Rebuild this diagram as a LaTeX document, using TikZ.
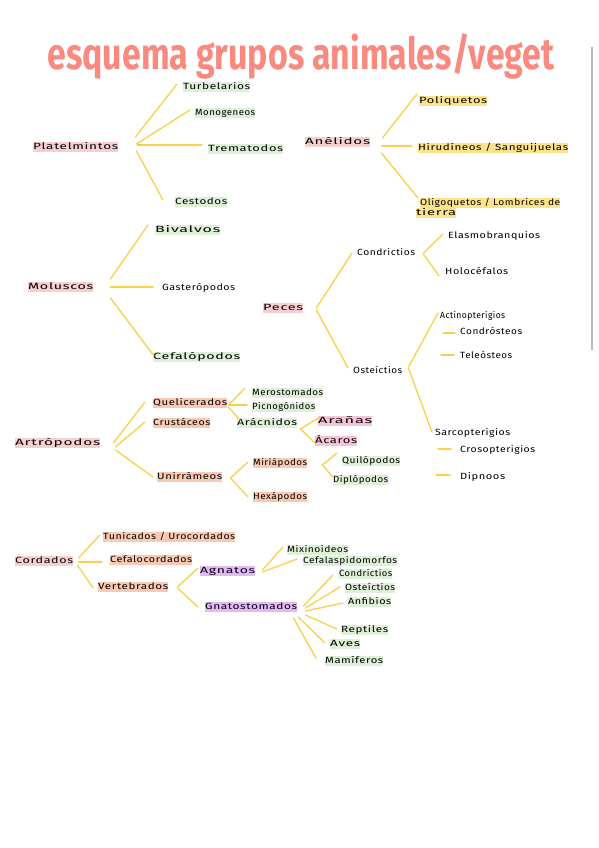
\documentclass[tikz,border=0pt]{standalone}
\usepackage{fontspec}
\usepackage{graphicx}
\newfontfamily\hand[LetterSpace=5]{Fira Sans}
\newfontfamily\titlefont{Fira Sans}
\definecolor{hpink}{HTML}{F8CFCF}
\definecolor{hgreen}{HTML}{DFF0D8}
\definecolor{hyellow}{HTML}{FCE38A}
\definecolor{horange}{HTML}{F9C9B3}
\definecolor{hpurple}{HTML}{E2B8F7}
\definecolor{hpinkb}{HTML}{F5C4D8}
\definecolor{lnyel}{HTML}{F8D04A}
\definecolor{ttlcol}{HTML}{FA8A80}
\newcommand\fw[2]{\resizebox{#1pt}{\height}{#2}}
\newcommand\cn[4]{\draw[conn] ([shift={(#2)}]#1.east) -- ([shift={(#4)}]#3.west);}
\begin{document}
\begin{tikzpicture}[x=1pt,y=-1pt,
  lb/.style={anchor=west,inner xsep=0pt,inner ysep=1pt,text height=6.3pt,text depth=1.8pt,font=\hand\fontsize{9}{10}\selectfont},
  conn/.style={draw=lnyel,line width=1.3pt,line cap=round}]
\useasboundingbox (0,0) rectangle (599,848);
\fill[white] (0,0) rectangle (599,848);
\draw[gray!55,line width=1.2pt] (592,47) -- (592,350);
\node[anchor=base,inner sep=0pt,text=ttlcol,font=\titlefont\bfseries\fontsize{44}{44}\selectfont] (ttl) at (301,70) {\fw{507}{esquema grupos animales/veget}};
% Platelmintos
\node[lb,fill=hpink] (plat) at (33,147) {\fw{85}{Platelmintos}};
\node[lb,fill=hgreen] (turb) at (183,87) {\fw{67}{Turbelarios}};
\node[lb,fill=hgreen] (mono) at (195,113) {\fw{60}{Monogeneos}};
\node[lb,fill=hgreen] (trem) at (208,149) {\fw{75}{Trematodos}};
\node[lb,fill=hgreen] (cest) at (175,202) {\fw{52}{Cestodos}};
\cn{plat}{17,-10}{turb}{-6,-3}
\cn{plat}{18,-3}{mono}{-5,-3}
\cn{plat}{19,-2}{trem}{-6,-4}
\cn{plat}{18,4}{cest}{-12,-2}
% Anelidos
\node[lb,fill=hpink] (anel) at (305,142) {\fw{65}{Anélidos}};
\node[lb,fill=hyellow] (poli) at (419,101) {\fw{68}{Poliquetos}};
\node[lb,fill=hyellow] (hiru) at (418,148) {\fw{150}{Hirudíneos / Sanguijuelas}};
\node[lb,fill=hyellow] (olig) at (420,203) {\fw{140}{Oligoquetos / Lombrices de}};
\node[lb,fill=hyellow] (oligb) at (416,213) {\fw{40}{tierra}};
\cn{anel}{12,-4}{poli}{-2,-7}
\cn{anel}{11,4}{hiru}{-6,-2}
\cn{anel}{11,11}{olig}{-2,-5}
% Moluscos
\node[lb,fill=hpink] (molu) at (28,287) {\fw{65}{Moluscos}};
\node[lb,fill=hgreen] (biva) at (155,230) {\fw{65}{Bivalvos}};
\node[lb] (gast) at (162,288) {\fw{73}{Gasterópodos}};
\node[lb,fill=hgreen] (cefa) at (153,357) {\fw{87}{Cefalópodos}};
\cn{molu}{17,-8}{biva}{-7,-5}
\cn{molu}{17,0}{gast}{-9,-1}
\cn{molu}{17,11}{cefa}{1,-1}
% Peces
\node[lb,fill=hpink] (pece) at (263,308) {\fw{40}{Peces}};
\node[lb] (cond) at (357,253) {\fw{58}{Condrictios}};
\node[lb] (oste) at (353,371) {\fw{49}{Osteíctios}};
\node[lb] (elas) at (448,236) {\fw{92}{Elasmobranquios}};
\node[lb] (holo) at (445,272) {\fw{63}{Holocéfalos}};
\node[lb] (acti) at (440,316) {\fw{65}{Actinopterigios}};
\node[lb] (cdro) at (460,332) {\fw{62}{Condrósteos}};
\node[lb] (tele) at (460,356) {\fw{52}{Teleósteos}};
\node[lb] (sarc) at (435,433) {\fw{75}{Sarcopterigios}};
\node[lb] (cros) at (460,450) {\fw{75}{Crosopterigios}};
\node[lb] (dipn) at (460,477) {\fw{45}{Dipnoos}};
\cn{pece}{13,0}{cond}{-5,0}
\cn{pece}{13,2}{oste}{-5,-3}
\cn{cond}{8,0}{elas}{-5,-2}
\cn{cond}{8,1}{holo}{-6,4}
\cn{oste}{6,-4}{acti}{-2,-3}
\cn{oste}{6,-3}{sarc}{-3,-1}
\draw[conn] ([shift={(-17,1)}]cdro.west) -- ([shift={(-5,1)}]cdro.west);
\draw[conn] ([shift={(-19,-1)}]tele.west) -- ([shift={(-6,-1)}]tele.west);
\draw[conn] ([shift={(-22,-1)}]cros.west) -- ([shift={(-9,-1)}]cros.west);
\draw[conn] ([shift={(-24,-2)}]dipn.west) -- ([shift={(-10,-2)}]dipn.west);
% Artropodos
\node[lb,fill=hpink] (artr) at (15,443) {\fw{85}{Artrópodos}};
\node[lb,fill=horange] (quel) at (153,403) {\fw{74}{Quelicerados}};
\node[lb,fill=horange] (crus) at (153,423) {\fw{57}{Crustáceos}};
\node[lb,fill=horange] (unir) at (157,477) {\fw{65}{Unirrámeos}};
\node[lb,fill=hgreen] (mero) at (252,393) {\fw{71}{Merostomados}};
\node[lb,fill=hgreen] (picn) at (252,407) {\fw{63}{Picnogónidos}};
\node[lb,fill=hgreen] (arac) at (237,423) {\fw{60}{Arácnidos}};
\node[lb,fill=hpinkb] (aran) at (318,421) {\fw{54}{Arañas}};
\node[lb,fill=hpinkb] (acar) at (315,441) {\fw{42}{Ácaros}};
\node[lb,fill=horange] (miri) at (253,463) {\fw{54}{Miriápodos}};
\node[lb,fill=horange] (hexa) at (253,497) {\fw{54}{Hexápodos}};
\node[lb,fill=hgreen] (quil) at (342,461) {\fw{58}{Quilópodos}};
\node[lb,fill=hgreen] (dipl) at (333,480) {\fw{55}{Diplópodos}};
\cn{artr}{13,0}{quel}{-8,-1}
\cn{artr}{15,4}{crus}{-8,-1}
\cn{artr}{15,7}{unir}{-4,0}
\cn{quel}{1,2}{mero}{-7,-5}
\cn{quel}{1,2}{picn}{-5,-2}
\cn{quel}{1,4}{arac}{3,-3}
\cn{arac}{3,6}{aran}{2,-4}
\cn{arac}{3,6}{acar}{0,2}
\cn{unir}{8,1}{miri}{-5,-1}
\cn{unir}{8,1}{hexa}{-5,0}
\cn{miri}{15,2}{quil}{-5,-8}
\cn{miri}{15,2}{dipl}{0,-3}
% Cordados
\node[lb,fill=hpink] (cord) at (15,561) {\fw{58}{Cordados}};
\node[lb,fill=horange] (tuni) at (103,537) {\fw{132}{Tunicados / Urocordados}};
\node[lb,fill=horange] (cfcd) at (110,560) {\fw{82}{Cefalocordados}};
\node[lb,fill=horange] (vert) at (98,587) {\fw{70}{Vertebrados}};
\node[lb,fill=hpurple] (agna) at (200,571) {\fw{55}{Agnatos}};
\node[lb,fill=hpurple] (gnat) at (205,607) {\fw{92}{Gnatostomados}};
\node[lb,fill=hgreen] (mixi) at (287,550) {\fw{61}{Mixinoideos}};
\node[lb,fill=hgreen] (cfal) at (303,561) {\fw{94}{Cefalaspidomorfos}};
\node[lb,fill=hgreen] (gcon) at (339,574) {\fw{53}{Condrictios}};
\node[lb,fill=hgreen] (gost) at (345,588) {\fw{50}{Osteíctios}};
\node[lb,fill=hgreen] (anfi) at (348,602) {\fw{43}{Anfibios}};
\node[lb,fill=hgreen] (rept) at (341,630) {\fw{47}{Reptiles}};
\node[lb,fill=hgreen] (aves) at (330,644) {\fw{30}{Aves}};
\node[lb,fill=hgreen] (mami) at (325,661) {\fw{58}{Mamíferos}};
\cn{cord}{5,-3}{tuni}{-3,-2}
\cn{cord}{5,1}{cfcd}{-8,2}
\cn{cord}{4,4}{vert}{-5,1}
\cn{vert}{9,0}{agna}{-2,-3}
\cn{vert}{9,1}{gnat}{-7,0}
\cn{agna}{7,-1}{mixi}{-4,-3}
\cn{agna}{7,1}{cfal}{-6,-2}
\cn{gnat}{6,-1}{gcon}{-6,1}
\cn{gnat}{8,1}{gost}{-5,-1}
\cn{gnat}{8,4}{anfi}{-5,1}
\cn{gnat}{8,8}{rept}{-4,-1}
\cn{gnat}{1,10}{aves}{-5,-1}
\cn{gnat}{-4,11}{mami}{-9,-3}
\end{tikzpicture}
\end{document}
